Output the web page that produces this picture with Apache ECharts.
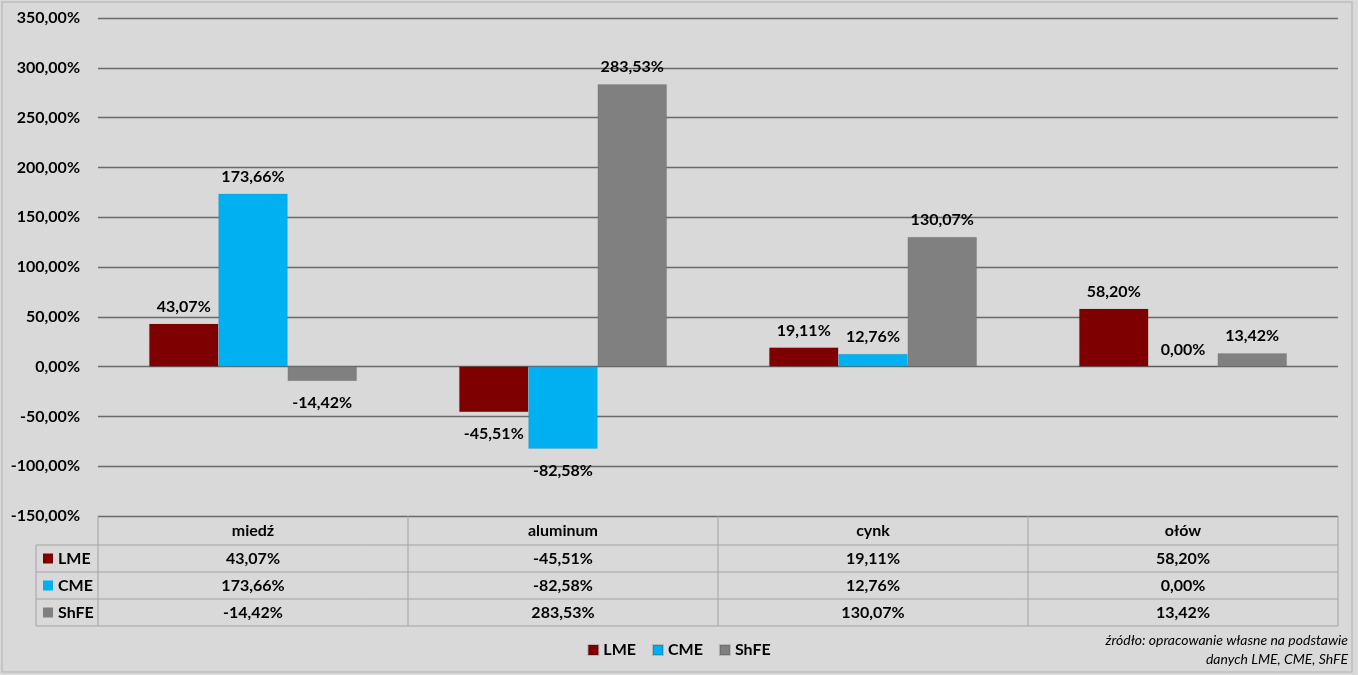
<!DOCTYPE html>
<html><head><meta charset="utf-8">
<script src="https://cdn.jsdelivr.net/npm/echarts@6/dist/echarts.min.js"></script>
<style>html,body{margin:0;padding:0;background:#d9d9d9;}#c{width:1358px;height:675px;}</style>
</head><body><div id="c"></div>
<script>
var categories = ['miedź', 'aluminum', 'cynk', 'ołów'];
var seriesNames = ['LME', 'CME', 'ShFE'];
var lme = [43.07, -45.51, 19.11, 58.20];
var cme = [173.66, -82.58, 12.76, 0.00];
var shfe = [-14.42, 283.53, 130.07, 13.42];
var colors = ['#7f0000', '#00b0f0', '#808080'];
var yTicks = {min: -150, max: 350, interval: 50};
var sourceLines = ['źródło: opracowanie własne na podstawie', 'danych LME, CME, ShFE'];

var allData = [lme, cme, shfe];
var FONT = 'Lato';
function fmt(v){ return v.toFixed(2).replace('.', ',') + '%'; }

var chart = echarts.init(document.getElementById('c'));
var series = seriesNames.map(function(name, si){
  return {
    name: name, type: 'bar', barGap: '0%', barCategoryGap: '33%',
    itemStyle: {color: colors[si], borderColor: 'rgba(0,0,0,0.15)', borderWidth: 0.5},
    data: allData[si].map(function(v){
      return {value: v, label: {position: v < 0 ? 'bottom' : 'top', distance: v < 0 ? 14 : 9}};
    }),
    label: {show: true, formatter: function(p){ return fmt(p.value); },
      color: '#000', fontFamily: FONT, fontWeight: 'bold', fontSize: 16},
    emphasis: {disabled: true}
  };
});

chart.setOption({
  animation: false,
  backgroundColor: '#d9d9d9',
  grid: {left: 98, right: 20, top: 18, bottom: 159},
  legend: {
    data: seriesNames, left: 'center', top: 637, icon: 'rect', itemWidth: 10, itemHeight: 10, itemGap: 16,
    textStyle: {color: '#000', fontFamily: FONT, fontWeight: 'bold', fontSize: 16}
  },
  xAxis: {type: 'category', data: categories, axisLine: {show: false}, axisTick: {show: false},
    axisLabel: {show: false}, splitLine: {show: false}},
  yAxis: {type: 'value', min: yTicks.min, max: yTicks.max, interval: yTicks.interval,
    axisLine: {show: false}, axisTick: {show: false},
    axisLabel: {formatter: function(v){ return fmt(v); }, color: '#000', fontFamily: FONT, fontWeight: 'bold', fontSize: 16, margin: 18},
    splitLine: {lineStyle: {color: '#6a6a6a', width: 1.3}}},
  series: series
});

var g = [];
var gridLeft = 98, gridRight = 1338;
var top0 = chart.convertToPixel({yAxisIndex: 0}, yTicks.min);
var rowH = [29, 27, 27, 27];
var rowY = [top0];
for (var r = 0; r < rowH.length; r++) rowY.push(rowY[r] + rowH[r]);
var tableLeft = 36;
var lineCol = '#a3a3a3';
function hline(x1, x2, y){ g.push({type:'line', shape:{x1:x1,y1:y,x2:x2,y2:y}, style:{stroke:lineCol, lineWidth:1}, silent:true}); }
function vline(x, y1, y2){ g.push({type:'line', shape:{x1:x,y1:y1,x2:x,y2:y2}, style:{stroke:lineCol, lineWidth:1}, silent:true}); }
var catW = (gridRight - gridLeft) / categories.length;
for (var i = 1; i < rowY.length; i++) hline(tableLeft, gridRight, rowY[i]);
vline(tableLeft, rowY[1], rowY[4]);
for (var c = 0; c <= categories.length; c++) vline(gridLeft + c * catW, rowY[0], rowY[4]);
categories.forEach(function(cat, ci){
  var cx = chart.convertToPixel({xAxisIndex: 0}, ci);
  g.push({type:'text', x: cx, y: (rowY[0] + rowY[1]) / 2, silent:true,
    style:{text: cat, fill:'#000', font:'bold 16px ' + FONT, textAlign:'center', textVerticalAlign:'middle'}});
  allData.forEach(function(arr, si){
    g.push({type:'text', x: cx, y: (rowY[si+1] + rowY[si+2]) / 2, silent:true,
      style:{text: fmt(arr[ci]), fill:'#000', font:'bold 16px ' + FONT, textAlign:'center', textVerticalAlign:'middle'}});
  });
});
seriesNames.forEach(function(name, si){
  var cy = (rowY[si+1] + rowY[si+2]) / 2;
  g.push({type:'rect', shape:{x:43, y:cy-5, width:10, height:10}, style:{fill:colors[si]}, silent:true});
  g.push({type:'text', x:58, y:cy, silent:true,
    style:{text:name, fill:'#000', font:'bold 16px ' + FONT, textAlign:'left', textVerticalAlign:'middle'}});
});
sourceLines.forEach(function(t, li){
  g.push({type:'text', right: 10, top: 633 + li * 19, silent:true,
    style:{text:t, fill:'#000', font:'italic 14px ' + FONT, textAlign:'right'}});
});
g.push({type:'rect', shape:{x:2, y:2, width:1350, height:670}, style:{fill:'none', stroke:'#bdbdbd', lineWidth:1.5}, silent:true, z:-1});
chart.setOption({graphic: g});
</script></body></html>
